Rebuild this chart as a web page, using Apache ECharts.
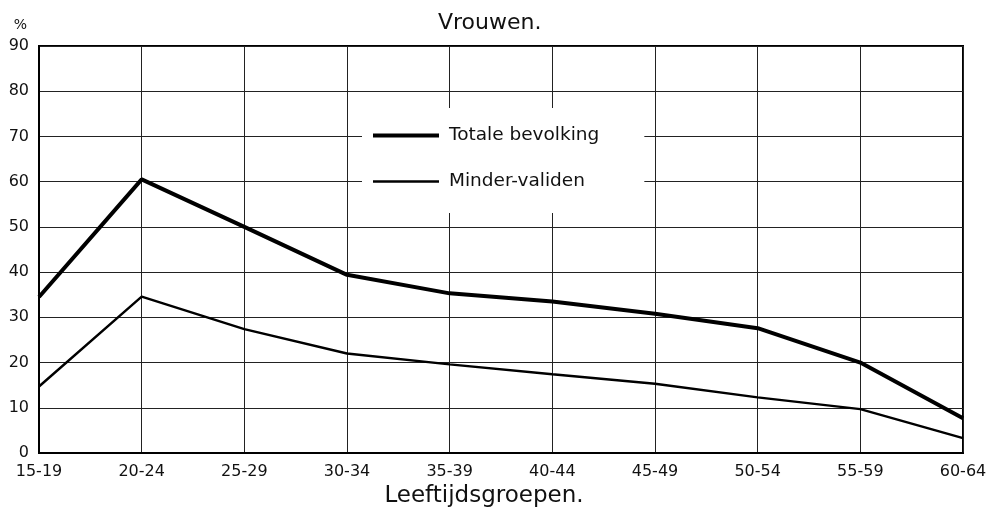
<!DOCTYPE html>
<html>
<head>
<meta charset="utf-8">
<script src="https://cdn.jsdelivr.net/npm/echarts@6/dist/echarts.min.js"></script>
<style>
    html, body { margin: 0; padding: 0; background: #fff; }
    #chart { width: 991px; height: 515px; }
</style>
</head>
<body>
<div id="chart"></div>
<script>
// leeftijdsgroepen op de x-as
var ageGroups = ['15-19', '20-24', '25-29', '30-34', '35-39', '40-44', '45-49', '50-54', '55-59', '60-64']
// percentages
var totaleBevolking = [34.5, 60.5, 50, 39.4, 35.3, 33.5, 30.8, 27.6, 20, 7.7]
var minderValiden = [14.7, 34.6, 27.4, 22, 19.6, 17.4, 15.3, 12.3, 9.7, 3.3]
var yTicks = [0, 10, 20, 30, 40, 50, 60, 70, 80, 90]

var font = '"DejaVu Sans", sans-serif'

var chart = echarts.init(document.getElementById('chart'))
chart.setOption({
    animation: false,
    backgroundColor: '#fff',
    title: {
        text: 'Vrouwen.',
        left: 433,
        top: 7,
        textStyle: { fontFamily: font, fontSize: 22, fontWeight: 'normal', color: '#111' }
    },
    legend: {
        left: 362,
        top: 108,
        orient: 'vertical',
        itemGap: 27,
        itemWidth: 66,
        itemHeight: 18,
        padding: [18, 45, 22, 9],
        backgroundColor: '#fff',
        itemStyle: { opacity: 0 },
        textStyle: { fontFamily: font, fontSize: 18.5, lineHeight: 18, color: '#111', padding: [0, 0, 0, 5] },
        data: [
            { name: 'Totale bevolking', lineStyle: { color: '#000', width: 4 } },
            { name: 'Minder-validen', lineStyle: { color: '#000', width: 2.4 } }
        ]
    },
    grid: {
        left: 39,
        right: 28,
        top: 46,
        bottom: 62,
        show: true,
        borderColor: '#000',
        borderWidth: 2
    },
    xAxis: {
        type: 'category',
        data: ageGroups,
        boundaryGap: false,
        name: 'Leeftijdsgroepen.',
        nameLocation: 'middle',
        nameGap: 23,
        nameTextStyle: { fontFamily: font, fontSize: 23, color: '#111', padding: [0, 34, 0, 0] },
        axisLine: { lineStyle: { color: '#000', width: 2 } },
        axisTick: { show: false },
        axisLabel: { fontFamily: font, fontSize: 16, color: '#111', margin: 11 },
        splitLine: { show: true, lineStyle: { color: '#222', width: 1 } }
    },
    yAxis: {
        type: 'value',
        min: yTicks[0],
        max: yTicks[yTicks.length - 1],
        interval: 10,
        name: '%',
        nameLocation: 'end',
        nameGap: 14,
        nameTextStyle: { fontFamily: font, fontSize: 14, color: '#111', align: 'right', padding: [0, 12, 0, 0] },
        axisLine: { show: true, lineStyle: { color: '#000', width: 2 } },
        axisTick: { show: false },
        axisLabel: { fontFamily: font, fontSize: 16, color: '#111', margin: 10 },
        splitLine: { show: true, lineStyle: { color: '#222', width: 1 } }
    },
    series: [
        {
            name: 'Totale bevolking',
            type: 'line',
            data: totaleBevolking,
            symbol: 'none',
            z: 3,
            itemStyle: { color: '#000' },
            lineStyle: { color: '#000', width: 4 }
        },
        {
            name: 'Minder-validen',
            type: 'line',
            data: minderValiden,
            symbol: 'none',
            z: 3,
            itemStyle: { color: '#000' },
            lineStyle: { color: '#000', width: 2.4 }
        }
    ]
})
</script>
</body>
</html>
